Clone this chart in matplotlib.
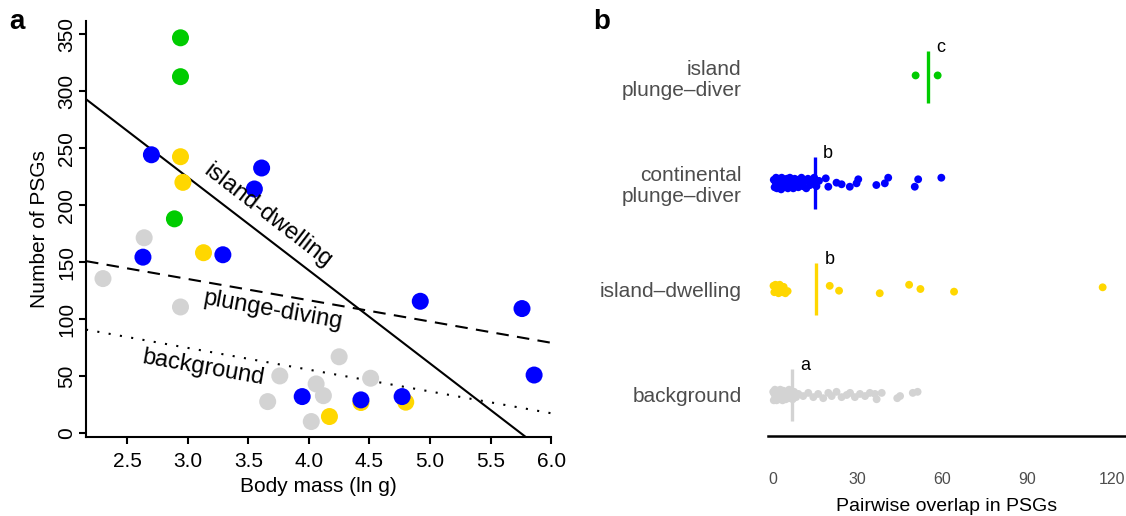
"""
Two-panel figure: PSG count vs body mass (a) and pairwise PSG overlap by group (b).
"""

import matplotlib
matplotlib.use("Agg")
import matplotlib.pyplot as plt

plt.rcParams["font.family"] = ["Liberation Sans", "DejaVu Sans"]

GREEN = "#00CC00"
BLUE = "#0000FF"
YELLOW = "#FFD700"
GRAY = "#D3D3D3"
TXT_GRAY = "#4D4D4D"

# ---- panel a: body mass (ln g) vs number of PSGs, one pair of lists per group
bg_mass = [2.64, 2.30, 2.94, 4.25, 3.76, 4.51, 4.06, 4.12, 3.66, 4.02]
bg_psg = [171.5, 135.7, 110.8, 67.1, 50.3, 48.3, 43.3, 33.0, 27.8, 10.3]
isl_mass = [2.94, 2.96, 3.13, 4.17, 4.43, 4.80]
isl_psg = [242.6, 220.1, 158.4, 14.7, 27.0, 27.3]
pd_mass = [2.70, 3.61, 3.55, 2.63, 3.29, 4.92, 5.76, 5.86, 3.945, 4.43, 4.77]
pd_psg = [244.3, 232.7, 214.3, 154.5, 156.6, 115.8, 109.4, 51.1, 32.2, 29.3, 32.2]
ipd_mass = [2.94, 2.94, 2.89]
ipd_psg = [346.9, 312.8, 188.1]

# fitted regression lines: intercept + slope * mass
fit_labels = ["island-dwelling", "plunge-diving", "background"]
fit_intercept = [469.3, 191.3, 132.2]
fit_slope = [-81.6, -18.65, -19.1]

# ---- panel b: pairwise overlap in PSGs, with vertical jitter
groups_b = ["background", "island\u2013dwelling", "continental\nplunge\u2013diver",
            "island\nplunge\u2013diver"]
letters_b = ["a", "b", "b", "c"]
centre_b = [6.7, 15.2, 14.8, 54.8]

bg_overlap = [0.1, 0.3, 0.5, 0.7, 0.9, 1.1, 1.3, 1.5, 1.7, 1.9, 2.1, 2.4, 2.6, 2.9,
              3.1, 3.4, 3.7, 4.0, 4.3, 4.6, 5.0, 5.3, 5.7, 6.1, 6.5, 7.0, 7.5, 8.2,
              9.0, 10.7, 12.5, 14.3, 16.0, 17.8, 19.6, 20.8, 22.5, 24.3, 26.1, 27.3,
              29.0, 30.8, 32.6, 34.3, 36.1, 36.7, 38.5, 44.0, 45.0, 49.5, 51.2]
bg_jit = [0.03, -0.05, 0.01, 0.05, -0.02, 0.02, -0.05, 0.04, -0.01, 0.03, -0.04,
          0.0, 0.05, -0.03, 0.02, -0.05, 0.04, -0.02, 0.01, -0.04, 0.03, -0.01,
          0.05, -0.03, 0.02, -0.04, 0.03, -0.02, 0.01, -0.01, 0.02, -0.02, 0.01,
          -0.03, 0.02, -0.01, 0.03, -0.02, 0.0, 0.02, -0.02, 0.01, -0.01, 0.02,
          0.01, -0.04, 0.02, -0.03, -0.01, 0.02, 0.03]
isl_overlap = [0.2, 0.5, 0.9, 1.2, 1.6, 2.0, 2.4, 2.9, 3.3, 3.8, 4.4, 5.2,
               20.1, 23.4, 37.8, 48.2, 52.2, 64.1, 116.7]
isl_jit = [0.03, -0.03, 0.04, -0.01, 0.02, -0.04, 0.04, 0.0, -0.03, 0.02, -0.04,
           -0.02, 0.03, -0.016, -0.04, 0.04, 0.0, -0.025, 0.016]
cpd_overlap = [0.3, 0.6, 0.9, 1.1, 1.4, 1.7, 2.0, 2.2, 2.6, 2.9, 3.1, 3.5, 3.8,
               4.2, 4.5, 4.9, 5.3, 5.6, 6.0, 6.4, 6.8, 7.2, 7.7, 8.1, 8.6, 9.0,
               9.5, 10.1, 10.6, 11.2, 11.8, 12.4, 13.1, 13.8, 14.6, 15.4, 16.3,
               18.7, 19.6, 22.5, 24.3, 27.2, 29.6, 30.2, 36.6, 39.6, 40.8, 50.2,
               51.4, 59.6]
cpd_jit = [0.03, -0.04, 0.01, 0.05, -0.05, -0.01, 0.04, -0.03, 0.02, -0.06, 0.05,
           0.0, -0.04, 0.03, -0.02, 0.04, -0.05, 0.01, 0.05, -0.03, 0.02, -0.05,
           0.04, -0.01, 0.03, -0.04, 0.0, 0.05, -0.03, 0.02, -0.05, 0.04, -0.02,
           0.01, 0.05, -0.03, 0.02,
           0.044, -0.035, 0.003, -0.012, -0.035, -0.003, 0.035, -0.019, -0.003,
           0.05, -0.035, 0.035, 0.05]
ipd_overlap = [50.5, 58.3]
ipd_jit = [0.015, 0.015]

fig = plt.figure(figsize=(11.26, 5.16), dpi=100)

# ================= panel a =================
ax = fig.add_axes([0.0764, 0.153, 0.413, 0.806])
for xs, ys, col in [(bg_mass, bg_psg, GRAY), (isl_mass, isl_psg, YELLOW),
                    (pd_mass, pd_psg, BLUE), (ipd_mass, ipd_psg, GREEN)]:
    ax.scatter(xs, ys, s=150, color=col, edgecolors="none", zorder=3)

x0, x1 = 2.16, 6.0
styles = ["-", (0, (6, 4)), (0, (1, 4.5))]
for b0, b1, ls in zip(fit_intercept, fit_slope, styles):
    ax.plot([x0, x1], [b0 + b1 * x0, b0 + b1 * x1], color="black",
            linestyle=ls, lw=1.5, zorder=2)

ax.text(3.66, 191, fit_labels[0], rotation=-37.7, fontsize=17,
        ha="center", va="center", rotation_mode="anchor")
ax.text(3.70, 108, fit_labels[1], rotation=-10, fontsize=17,
        ha="center", va="center", rotation_mode="anchor")
ax.text(3.13, 57, fit_labels[2], rotation=-10, fontsize=17,
        ha="center", va="center", rotation_mode="anchor")

ax.set_xlim(x0, x1)
ax.set_ylim(-3.3, 361.5)
ax.set_xticks([2.5, 3.0, 3.5, 4.0, 4.5, 5.0, 5.5, 6.0])
ax.set_xticklabels(["2.5", "3.0", "3.5", "4.0", "4.5", "5.0", "5.5", "6.0"])
ax.set_yticks(range(0, 351, 50))
ax.spines[["top", "right"]].set_visible(False)
for sp in ["left", "bottom"]:
    ax.spines[sp].set_linewidth(1.5)
ax.tick_params(axis="both", length=5, width=1.5, labelsize=15, direction="out")
ax.tick_params(axis="x", pad=6)
ax.tick_params(axis="y", pad=2)
for lab in ax.get_yticklabels():
    lab.set_rotation(90)
    lab.set_va("center")
ax.set_xlabel("Body mass (ln g)", fontsize=15, labelpad=4)
ax.set_ylabel("Number of PSGs", fontsize=15, labelpad=6)

fig.text(0.015, 0.957, "a", fontsize=20, fontweight="bold", ha="center", va="center")

# ================= panel b =================
bx = fig.add_axes([0.682, 0.155, 0.318, 0.819])
strips = [(bg_overlap, bg_jit, GRAY), (isl_overlap, isl_jit, YELLOW),
          (cpd_overlap, cpd_jit, BLUE), (ipd_overlap, ipd_jit, GREEN)]
for i, (xs, js, col) in enumerate(strips):
    pos = i + 1
    bx.scatter(xs, [pos + j for j in js], s=32, color=col, edgecolors="none",
               zorder=3)
    bx.vlines(centre_b[i], pos - 0.247, pos + 0.247, color=col, lw=2.4, zorder=4)
    bx.text(centre_b[i] + 3.0, pos + 0.28, letters_b[i], fontsize=13,
            ha="left", va="center")

bx.set_xlim(-1.77, 124.96)
bx.set_ylim(0.613, 4.6)
bx.set_xticks([0, 30, 60, 90, 120])
bx.set_yticks([1, 2, 3, 4])
bx.set_yticklabels(groups_b, fontsize=15, color=TXT_GRAY, linespacing=1.12)
bx.spines[["top", "right", "left"]].set_visible(False)
bx.spines["bottom"].set_linewidth(1.8)
bx.tick_params(axis="x", length=0, pad=26, labelsize=11.5, labelcolor=TXT_GRAY)
bx.tick_params(axis="y", length=0, pad=19)
bx.set_xlabel("Pairwise overlap in PSGs", fontsize=14, labelpad=8)

fig.text(0.534, 0.957, "b", fontsize=20, fontweight="bold", ha="center", va="center")

fig.savefig("out.png", dpi=100)
